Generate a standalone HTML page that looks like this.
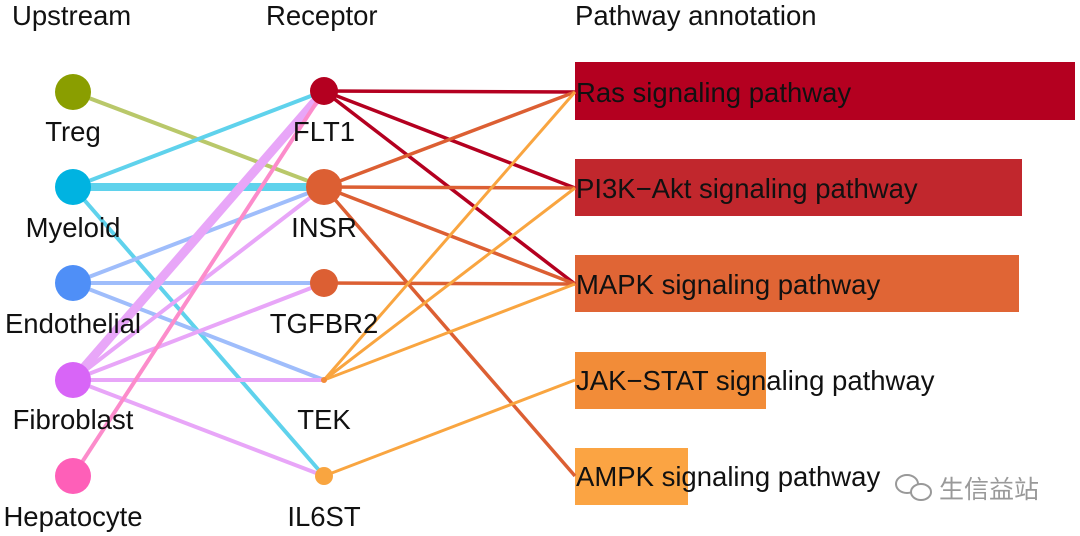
<!DOCTYPE html>
<html><head><meta charset="utf-8"><style>
html,body{margin:0;padding:0;background:#fff;}
svg{display:block;font-family:"Liberation Sans",Arial,sans-serif;}
</style></head><body>
<svg width="1080" height="536" viewBox="0 0 1080 536" xmlns="http://www.w3.org/2000/svg">
<rect width="1080" height="536" fill="#fff"/>
<rect x="575" y="62" width="500" height="58" fill="#b40020"/>
<rect x="575" y="159" width="447" height="57" fill="#c1272d"/>
<rect x="575" y="255" width="444" height="57" fill="#e06535"/>
<rect x="575" y="352" width="191" height="57" fill="#f28c38"/>
<rect x="575" y="448" width="113" height="57" fill="#fba443"/>
<g stroke-linecap="butt" fill="none">
<g stroke="#b40020" stroke-width="3.5">
<line x1="324" y1="91" x2="575" y2="92"/>
<line x1="324" y1="91" x2="575" y2="188"/>
<line x1="324" y1="91" x2="575" y2="284"/>
</g>
<g stroke="#dc5f33" stroke-width="3.5">
<line x1="324" y1="187" x2="575" y2="92"/>
<line x1="324" y1="187" x2="575" y2="188"/>
<line x1="324" y1="187" x2="575" y2="284"/>
<line x1="324" y1="187" x2="575" y2="476"/>
<line x1="324" y1="283" x2="575" y2="284"/>
</g>
<g stroke="#f9a540" stroke-width="3">
<line x1="324" y1="380" x2="575" y2="92"/>
<line x1="324" y1="380" x2="575" y2="188"/>
<line x1="324" y1="380" x2="575" y2="284"/>
<line x1="324" y1="476" x2="575" y2="380"/>
</g>
<line x1="73" y1="92" x2="324" y2="187" stroke="#b9c86a" stroke-width="4"/>
<g stroke="#5fd2ec">
<line x1="73" y1="187" x2="324" y2="91" stroke-width="4"/>
<line x1="73" y1="187" x2="324" y2="187" stroke-width="8"/>
<line x1="73" y1="187" x2="324" y2="476" stroke-width="4"/>
</g>
<g stroke="#9fbdfb" stroke-width="4">
<line x1="73" y1="283" x2="324" y2="187"/>
<line x1="73" y1="283" x2="324" y2="283"/>
<line x1="73" y1="283" x2="324" y2="380"/>
</g>
<g stroke="#e8a6f8">
<line x1="73" y1="380" x2="324" y2="91" stroke-width="9"/>
<line x1="73" y1="380" x2="324" y2="187" stroke-width="4"/>
<line x1="73" y1="380" x2="324" y2="283" stroke-width="4"/>
<line x1="73" y1="380" x2="324" y2="380" stroke-width="4"/>
<line x1="73" y1="380" x2="324" y2="476" stroke-width="4"/>
</g>
<line x1="73" y1="476" x2="324" y2="91" stroke="#fc8ccb" stroke-width="4"/>
</g>
<circle cx="73" cy="92" r="18" fill="#8a9e00"/>
<circle cx="73" cy="187" r="18" fill="#00b3e1"/>
<circle cx="73" cy="283" r="18" fill="#4f8ff7"/>
<circle cx="73" cy="380" r="18" fill="#d865f7"/>
<circle cx="73" cy="476" r="18" fill="#fe5fb8"/>
<circle cx="324" cy="91" r="14" fill="#b40020"/>
<circle cx="324" cy="187" r="18" fill="#dc5f33"/>
<circle cx="324" cy="283" r="14" fill="#dc5f33"/>
<circle cx="324" cy="380" r="3" fill="#f28c38"/>
<circle cx="324" cy="476" r="9" fill="#f9a540"/>
<g font-size="27.5" fill="#111">
<text x="12" y="25">Upstream</text>
<text x="266" y="25">Receptor</text>
<text x="575" y="25">Pathway annotation</text>
<g text-anchor="middle">
<text x="73" y="141">Treg</text>
<text x="73" y="237">Myeloid</text>
<text x="73" y="333">Endothelial</text>
<text x="73" y="429">Fibroblast</text>
<text x="73" y="526">Hepatocyte</text>
<text x="324" y="141">FLT1</text>
<text x="324" y="237">INSR</text>
<text x="324" y="333">TGFBR2</text>
<text x="324" y="429">TEK</text>
<text x="324" y="526">IL6ST</text>
</g>
<text x="576" y="102">Ras signaling pathway</text>
<text x="576" y="198">PI3K−Akt signaling pathway</text>
<text x="576" y="294">MAPK signaling pathway</text>
<text x="576" y="390">JAK−STAT signaling pathway</text>
<text x="576" y="486">AMPK signaling pathway</text>
</g>
<text x="939" y="498" font-size="25" fill="#999" font-family="'Liberation Sans','Noto Sans CJK SC',sans-serif">生信益站</text>
<g fill="#fff" stroke="#999" stroke-width="2">
<ellipse cx="907" cy="484" rx="11" ry="9"/>
<ellipse cx="921" cy="492" rx="10" ry="8"/>
</g>
</svg>
</body></html>
